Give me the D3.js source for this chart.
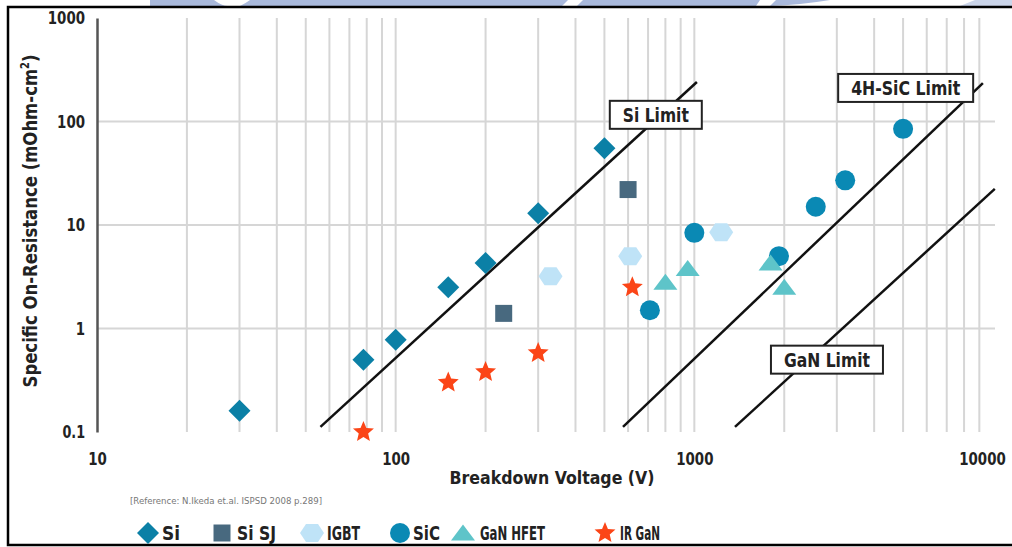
<!DOCTYPE html>
<html>
<head>
<meta charset="utf-8">
<script src="https://cdn.jsdelivr.net/npm/d3@7"></script>
<style>
  html, body { margin: 0; padding: 0; background: #fff; }
  svg { display: block; }
  .cond { font-family: "Liberation Sans Narrow", "Arial Narrow", "DejaVu Sans Condensed", sans-serif; font-weight: bold; }
</style>
</head>
<body>
<svg id="chart" width="1012" height="547"></svg>
<script>
// ---------- data ----------
const xTickValues = [10, 100, 1000, 10000];
const xTickLabels = ["10", "100", "1000", "10000"];
const yTickValues = [0.1, 1, 10, 100, 1000];
const yTickLabels = ["0.1", "1", "10", "100", "1000"];

const siV = [30, 78, 100, 150, 200, 300, 500];
const siR = [0.16, 0.5, 0.78, 2.5, 4.3, 13, 55];
const siSJV = [230, 600];
const siSJR = [1.4, 22];
const igbtV = [330, 610, 1230];
const igbtR = [3.2, 5.0, 8.5];
const sicV = [710, 1000, 1920, 2550, 3200, 5000];
const sicR = [1.5, 8.4, 5.0, 15, 27, 85];
const ganV = [800, 950, 1800, 2000];
const ganR = [2.8, 3.8, 4.3, 2.5];
const irV = [78, 150, 200, 300, 620];
const irR = [0.1, 0.3, 0.38, 0.58, 2.5];

const limitNames = ["Si Limit", "4H-SiC Limit", "GaN Limit"];
const siLimitV = [56, 1020];
const siLimitR = [0.112, 241];
const sicLimitV = [577, 9250];
const sicLimitR = [0.112, 235];
const ganLimitV = [1368, 10140];
const ganLimitR = [0.112, 22.3];
// label anchors (data units)
const limitLabelV = [743, 5100, 2780];
const limitLabelR = [116, 211, 0.5];

const seriesNames = ["Si", "Si SJ", "IGBT", "SiC", "GaN HFET", "IR GaN"];
const seriesColors = ["#0b80a6", "#48697f", "#bfe3f7", "#0a89b4", "#5ec4c9", "#fb4517"];

// ---------- setup ----------
const svg = d3.select("#chart");
const x = d3.scaleLog().domain([10, 10000]).range([97, 993]);
const y = d3.scaleLog().domain([0.1, 1000]).range([432, 18]);

// squeeze text horizontally to mimic a condensed face
function fit(sel, w) {
  sel.attr("textLength", w).attr("lengthAdjust", "spacingAndGlyphs");
}
const digitW = 9.3;

// watermark strip at top (decoration)
const wm = svg.append("g").attr("fill", "#a9b9dc");
wm.append("path").attr("d", "M150,0 L214,0 Q222,6 228,6 L150,6 Z");
wm.append("path").attr("d", "M250,0 L568,0 L562,6 L240,6 Q246,3 250,0 Z");
wm.append("path").attr("d", "M583,0 L760,0 L756,6 L577,6 Z");
wm.append("path").attr("d", "M776,0 L830,0 Q800,5 770,6 Z");
wm.append("path").attr("d", "M960,6 L1012,6 L1012,0 L975,0 Z").attr("opacity", 0.6);

// frame
svg.append("path").attr("d", "M1014,7 L8,7 L8,545 L1014,545")
  .attr("fill", "none").attr("stroke", "#000").attr("stroke-width", 2.5);

// ---------- grid ----------
const vGrid = [];
[10, 100, 1000].forEach(d => { for (let k = 2; k <= 10; k++) vGrid.push(d * k); });
const grid = svg.append("g");
grid.selectAll("line.v").data(vGrid.filter(v => v < 10000)).join("line")
  .attr("x1", d => x(d)).attr("x2", d => x(d))
  .attr("y1", y(1000)).attr("y2", y(0.1))
  .attr("stroke", "#d6d6d6").attr("stroke-width", 2);
grid.selectAll("line.h").data([1, 10, 100]).join("line")
  .attr("x1", x(10)).attr("x2", 995)
  .attr("y1", d => y(d)).attr("y2", d => y(d))
  .attr("stroke", "#d6d6d6").attr("stroke-width", 2);

// ---------- axes ----------
const yAxis = d3.axisLeft(y).tickValues(yTickValues)
  .tickFormat((d, i) => yTickLabels[i]).tickSize(0).tickPadding(12);
const gy = svg.append("g").attr("transform", `translate(${x(10)},0)`).call(yAxis);
gy.select(".domain").attr("stroke", "#555").attr("stroke-width", 2.5);
gy.selectAll("text").attr("class", "cond").attr("font-size", 18).attr("fill", "#222")
  .each(function(d, i) { fit(d3.select(this), yTickLabels[i].replace(".", "").length * digitW + (yTickLabels[i].includes(".") ? 4 : 0)); });

const xAxis = d3.axisBottom(x).tickValues(xTickValues)
  .tickFormat((d, i) => xTickLabels[i]).tickSize(0).tickPadding(20);
const gx = svg.append("g").attr("transform", `translate(0,${y(0.1)})`).call(xAxis);
gx.select(".domain").remove();
gx.selectAll("text").attr("class", "cond").attr("font-size", 18).attr("fill", "#222")
  .each(function(d, i) {
    const nat = this.getComputedTextLength();
    const s = (xTickLabels[i].length * digitW) / nat;
    const shift = d === 10000 ? -11 : 0;
    d3.select(this).attr("transform", `translate(${shift},0) scale(${s},1)`);
  });

const xt = svg.append("text").attr("class", "cond").attr("x", 552).attr("y", 484)
  .attr("text-anchor", "middle").attr("font-size", 18).attr("fill", "#222")
  .text("Breakdown Voltage (V)");
fit(xt, 205);

const yt = svg.append("text").attr("class", "cond")
  .attr("transform", "translate(37,221) rotate(-90)")
  .attr("text-anchor", "middle").attr("font-size", 20).attr("fill", "#222")
  .attr("textLength", 333).attr("lengthAdjust", "spacingAndGlyphs");
yt.append("tspan").text("Specific On-Resistance (mOhm-cm");
yt.append("tspan").attr("font-size", 12).attr("dy", -8).text("2");
yt.append("tspan").attr("dy", 8).text(")");

const ref = svg.append("text").attr("x", 130).attr("y", 504)
  .attr("font-family", "'DejaVu Sans Condensed', sans-serif")
  .attr("font-size", 8.5).attr("fill", "#777")
  .text("[Reference: N.Ikeda et.al. ISPSD 2008 p.289]");
fit(ref, 192);

// ---------- limit lines ----------
const limits = [[siLimitV, siLimitR], [sicLimitV, sicLimitR], [ganLimitV, ganLimitR]];
const lineGen = d3.line().x(d => x(d[0])).y(d => y(d[1]));
svg.append("g").selectAll("path").data(limits).join("path")
  .attr("d", d => lineGen(d[0].map((v, i) => [v, d[1][i]])))
  .attr("fill", "none").attr("stroke", "#111").attr("stroke-width", 2.5);

// ---------- markers ----------
const sym = {
  diamond: s => `M0,${-s} L${s},0 L0,${s} L${-s},0 Z`,
  square: s => `M${-s},${-s} H${s} V${s} H${-s} Z`,
  hexagon: s => { const w = s * 1.2, h = s * 0.9; return `M${-w},0 L${-w/2},${-h} L${w/2},${-h} L${w},0 L${w/2},${h} L${-w/2},${h} Z`; },
  circle: s => `M${-s},0 A${s},${s} 0 1,0 ${s},0 A${s},${s} 0 1,0 ${-s},0 Z`,
  triangle: s => `M0,${-s*0.85} L${s*1.2},${s*0.75} L${-s*1.2},${s*0.75} Z`,
  star: s => { let p = ""; for (let i = 0; i < 10; i++) { const r = i % 2 ? s * 0.45 : s; const a = -Math.PI/2 + i * Math.PI/5; p += (i ? "L" : "M") + (r*Math.cos(a)).toFixed(2) + "," + (r*Math.sin(a)).toFixed(2); } return p + "Z"; }
};
const series = [
  {v: siV, r: siR, shape: "diamond", size: 11},
  {v: siSJV, r: siSJR, shape: "square", size: 8.5},
  {v: igbtV, r: igbtR, shape: "hexagon", size: 10},
  {v: sicV, r: sicR, shape: "circle", size: 10},
  {v: ganV, r: ganR, shape: "triangle", size: 10},
  {v: irV, r: irR, shape: "star", size: 11}
];
const mg = svg.append("g");
series.forEach((s, si) => {
  mg.append("g").selectAll("path").data(s.v.map((v, i) => [v, s.r[i]])).join("path")
    .attr("transform", d => `translate(${x(d[0])},${y(d[1])})`)
    .attr("d", sym[s.shape](s.size))
    .attr("fill", seriesColors[si]);
});

// ---------- limit labels ----------
const labelTextW = [66, 109, 86];
const lab = svg.append("g");
limitNames.forEach((name, i) => {
  const g = lab.append("g").attr("transform", `translate(${x(limitLabelV[i])},${y(limitLabelR[i])})`);
  const w = labelTextW[i] + 26;
  g.append("rect").attr("x", -w / 2).attr("y", -14).attr("width", w).attr("height", 28)
    .attr("fill", "#fff").attr("stroke", "#222").attr("stroke-width", 2);
  const t = g.append("text").attr("class", "cond").attr("text-anchor", "middle")
    .attr("dy", "0.37em").attr("font-size", 19).attr("fill", "#222").text(name);
  fit(t, labelTextW[i]);
});

// ---------- legend ----------
const legendX = [148, 222, 312, 400, 463, 605];
const legendTextX = [162, 237, 327, 413, 480, 620];
const legendTextW = [18, 39, 33, 27, 65, 40];
const lg = svg.append("g");
series.forEach((s, i) => {
  lg.append("path").attr("transform", `translate(${legendX[i]},533)`)
    .attr("d", sym[s.shape](s.size)).attr("fill", seriesColors[i]);
  const t = lg.append("text").attr("class", "cond").attr("x", legendTextX[i]).attr("y", 540)
    .attr("font-size", 19).attr("fill", "#222").text(seriesNames[i]);
  fit(t, legendTextW[i]);
});
</script>
</body>
</html>
